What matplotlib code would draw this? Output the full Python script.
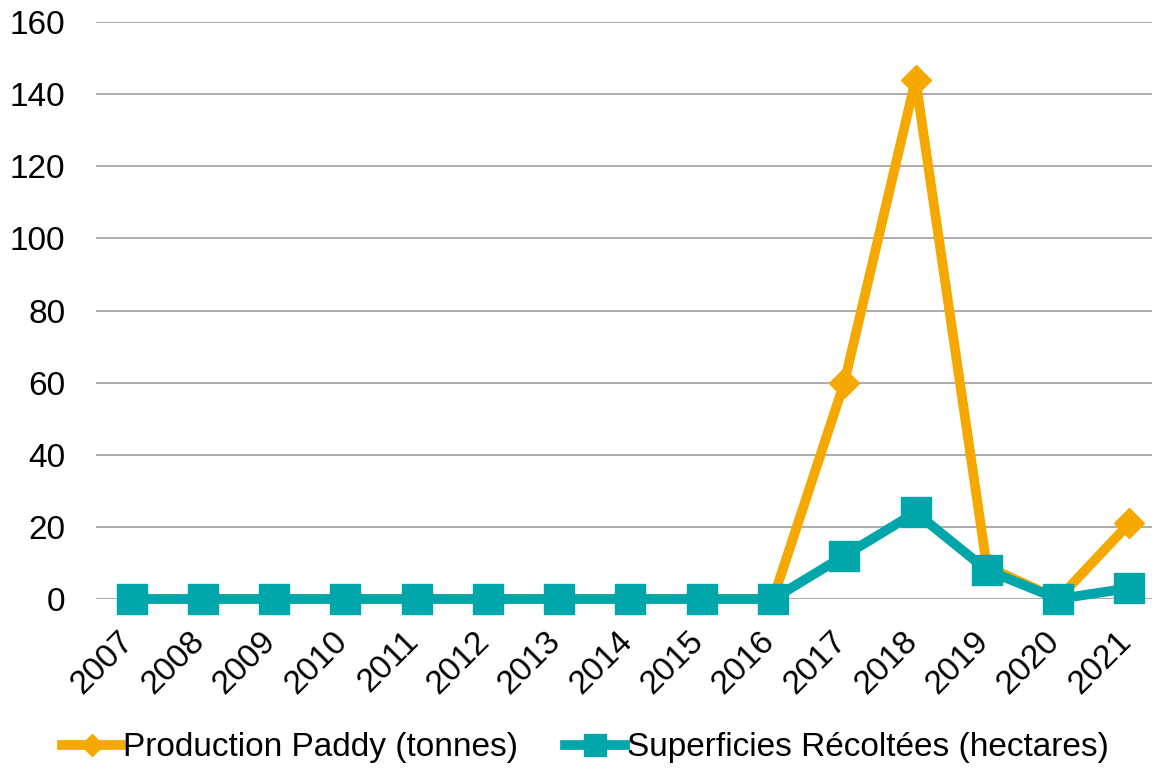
import matplotlib
matplotlib.use("Agg")
import matplotlib.pyplot as plt
import matplotlib.transforms as mtransforms

years = ["2007", "2008", "2009", "2010", "2011", "2012", "2013", "2014",
         "2015", "2016", "2017", "2018", "2019", "2020", "2021"]
production = [0, 0, 0, 0, 0, 0, 0, 0, 0, 0, 60, 144, 9, 0, 21]
superficies = [0, 0, 0, 0, 0, 0, 0, 0, 0, 0, 12, 24, 8, 0, 3]
yticks = [0, 20, 40, 60, 80, 100, 120, 140, 160]

ORANGE = "#F5A800"
TEAL = "#00A6AA"

plt.rcParams['font.family'] = ['Liberation Sans', 'DejaVu Sans']

fig = plt.figure(figsize=(11.52, 7.70), dpi=100)
ax = fig.add_axes([0.0833, 0.2221, 0.9280, 0.7493])

x = list(range(len(years)))
ax.plot(x, production, color=ORANGE, lw=7, marker="D", markersize=15.5,
        label="Production Paddy (tonnes)", zorder=3, clip_on=False)
ax.plot(x, superficies, color=TEAL, lw=7, marker="s", markersize=22,
        label="Superficies Récoltées (hectares)", zorder=4, clip_on=False)

ax.set_xlim(-0.5, len(years) - 0.5)
ax.set_ylim(0, 160)
ax.set_yticks(yticks)
ax.yaxis.grid(True, color="#A6A6A6", lw=1.3)
ax.set_axisbelow(True)
for s in ax.spines.values():
    s.set_visible(False)

ax.set_xticks(x)
ax.set_xticklabels(years, rotation=45, ha="right", rotation_mode="anchor",
                   fontsize=24)
ax.tick_params(axis="x", length=0, pad=19)
ax.tick_params(axis="y", length=0, pad=22, labelsize=24)

# nudge the rotated year labels a bit to the left
shift = mtransforms.ScaledTranslation(-14 / 100, 0, fig.dpi_scale_trans)
for lbl in ax.get_xticklabels():
    lbl.set_transform(lbl.get_transform() + shift)

fig.legend(loc="center", bbox_to_anchor=(0.508, 0.029), ncol=2, frameon=False,
           fontsize=24, handlelength=1.8, handletextpad=0.05,
           columnspacing=1.4, markerscale=0.7)

fig.savefig("out.png", dpi=100)
